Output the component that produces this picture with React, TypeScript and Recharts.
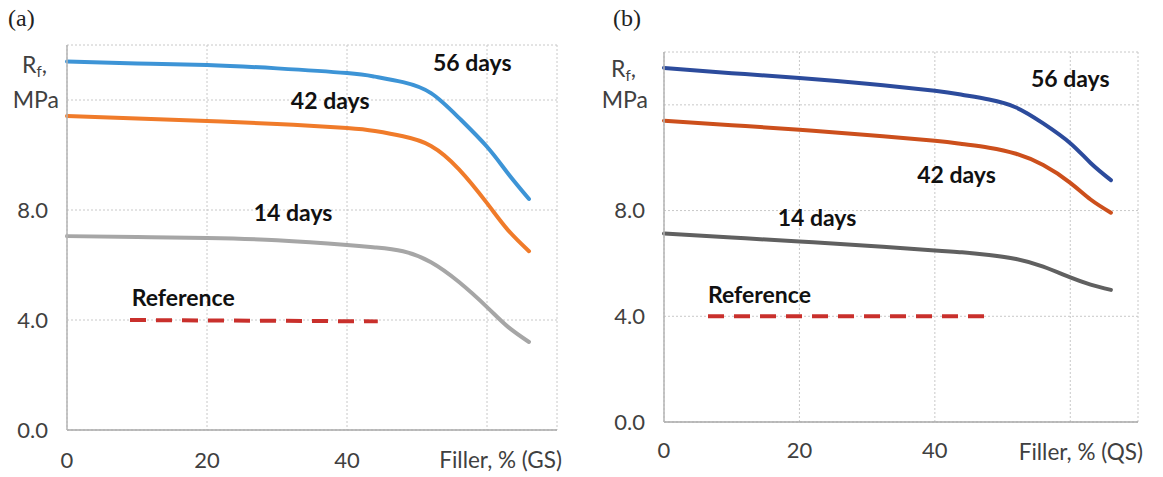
import { LineChart, Line, XAxis, YAxis, CartesianGrid, ReferenceDot } from 'recharts'

// filler content, % and flexural strength Rf, MPa
const fillerGS = [0, 10, 20, 30, 40, 44, 48, 52, 56, 60, 63, 66]
const gs56 = [13.4, 13.33, 13.27, 13.15, 12.98, 12.85, 12.65, 12.25, 11.35, 10.3, 9.33, 8.4]
const gs42 = [11.42, 11.33, 11.24, 11.13, 10.98, 10.87, 10.68, 10.33, 9.48, 8.25, 7.27, 6.5]
const gs14 = [7.05, 7.02, 6.98, 6.9, 6.73, 6.64, 6.5, 6.1, 5.38, 4.47, 3.75, 3.2]
const gsRefX = [9, 44.4]
const gsRefY = [4.0, 3.95]

const fillerQS = [0, 10, 20, 30, 40, 44, 48, 52, 56, 60, 63, 66]
const qs56 = [13.4, 13.2, 13.02, 12.8, 12.53, 12.38, 12.2, 11.9, 11.3, 10.55, 9.8, 9.15]
const qs42 = [11.4, 11.23, 11.06, 10.86, 10.64, 10.52, 10.38, 10.15, 9.72, 9.05, 8.42, 7.92]
const qs14 = [7.13, 6.98, 6.83, 6.67, 6.49, 6.42, 6.32, 6.17, 5.88, 5.47, 5.2, 5.0]
const qsRefX = [6.5, 47.6]
const qsRefY = [4.0, 4.0]

const xTicks = [0, 20, 40, 60]
const yTicks = [0, 4, 8, 12]

const gsNotes = [
  { text: '56 days', x: 57.9, y: 13.35 },
  { text: '42 days', x: 37.6, y: 11.96 },
  { text: '14 days', x: 32.3, y: 7.9 },
  { text: 'Reference', x: 16.6, y: 4.8 },
]
const qsNotes = [
  { text: '56 days', x: 60, y: 12.98 },
  { text: '42 days', x: 43.2, y: 9.36 },
  { text: '14 days', x: 22.6, y: 7.74 },
  { text: 'Reference', x: 14.1, y: 4.83 },
]

const FONT = 'Lato, "Open Sans", sans-serif'
const TICK = { fill: '#404040', fontSize: 22, fontFamily: FONT }

function Panel(props: any) {
  const { filler, s56, s42, s14, refX, refY, colors, notes, xTitle, left, width, margin, yWidth, xGap } = props
  const rows = filler.map((x: number, i: number) => ({ x, d56: s56[i], d42: s42[i], d14: s14[i] }))
  const refRows = refX.map((x: number, i: number) => ({ x, ref: refY[i] }))
  return (
    <div style={{ position: 'absolute', left, top: 0 }}>
      <LineChart width={width} height={477} data={rows} margin={margin}>
        <CartesianGrid stroke="#c8c8c8" strokeDasharray="2 2" />
        <XAxis
          dataKey="x"
          type="number"
          domain={[0, 70]}
          ticks={xTicks}
          height={30}
          tickLine={false}
          tickSize={0}
          tickMargin={xGap}
          axisLine={{ stroke: '#a9a9a9', strokeWidth: 1.5 }}
          tick={TICK}
          tickFormatter={(v: number) => (v === 60 ? '' : String(v))}
          label={{ value: xTitle, position: 'insideBottomRight', offset: 0, dx: 5, dy: 8, fill: '#404040', fontSize: 22.5, fontFamily: FONT }}
        />
        <YAxis
          type="number"
          domain={[0, 14]}
          ticks={yTicks}
          width={yWidth}
          tickLine={false}
          tickSize={0}
          tickMargin={19}
          axisLine={{ stroke: '#b5b5b5', strokeWidth: 1.5 }}
          tick={TICK}
          tickFormatter={(v: number) => (v === 12 ? '' : v.toFixed(1))}
        />
        <Line dataKey="d56" type="natural" stroke={colors[0]} strokeWidth={4} dot={false} strokeLinecap="round" isAnimationActive={false} />
        <Line dataKey="d42" type="natural" stroke={colors[1]} strokeWidth={4} dot={false} strokeLinecap="round" isAnimationActive={false} />
        <Line dataKey="d14" type="natural" stroke={colors[2]} strokeWidth={4} dot={false} strokeLinecap="round" isAnimationActive={false} />
        <Line data={refRows} dataKey="ref" type="linear" stroke="#c9302c" strokeWidth={4} strokeDasharray="16 10" dot={false} isAnimationActive={false} />
        {notes.map((n: any) => (
          <ReferenceDot
            key={n.text}
            x={n.x}
            y={n.y}
            r={0}
            fill="none"
            stroke="none"
            label={{ value: n.text, position: 'center', fill: '#111', fontSize: 23, fontWeight: 700, fontFamily: FONT }}
          />
        ))}
      </LineChart>
    </div>
  )
}

export default function App() {
  return (
    <div style={{ position: 'absolute', left: 0, top: 0, width: 1163, height: 477, background: '#fff', fontFamily: FONT }}>
      <Panel
        filler={fillerGS} s56={gs56} s42={gs42} s14={gs14} refX={gsRefX} refY={gsRefY}
        colors={['#3d94d6', '#f07b2a', '#a6a6a6']}
        notes={gsNotes}
        xTitle="Filler, % (GS)"
        left={0}
        width={580}
        yWidth={67}
        xGap={22}
        margin={{ top: 45, right: 23, bottom: 17, left: 0 }}
      />
      <Panel
        filler={fillerQS} s56={qs56} s42={qs42} s14={qs14} refX={qsRefX} refY={qsRefY}
        colors={['#2c4b9c', '#cc4f1c', '#606060']}
        notes={qsNotes}
        xTitle="Filler, % (QS)"
        left={580}
        width={583}
        yWidth={84}
        xGap={20}
        margin={{ top: 52, right: 25, bottom: 25, left: 0 }}
      />
      <svg width={1163} height={477} style={{ position: 'absolute', left: 0, top: 0, pointerEvents: 'none' }}>
        <text x={8} y={26} fontFamily='"Liberation Serif", serif' fontSize={24} fill="#222">(a)</text>
        <text x={613} y={26} fontFamily='"Liberation Serif", serif' fontSize={24} fill="#222">(b)</text>
        <g fontFamily={FONT} fontSize={23} fill="#404040">
          <text x={22} y={73}>R<tspan dy={4} fontSize={15}>f</tspan><tspan dy={-4}>,</tspan></text>
          <text x={59} y={108} textAnchor="end">MPa</text>
          <text x={611} y={77}>R<tspan dy={4} fontSize={15}>f</tspan><tspan dy={-4}>,</tspan></text>
          <text x={648} y={108} textAnchor="end">MPa</text>
        </g>
      </svg>
    </div>
  )
}
